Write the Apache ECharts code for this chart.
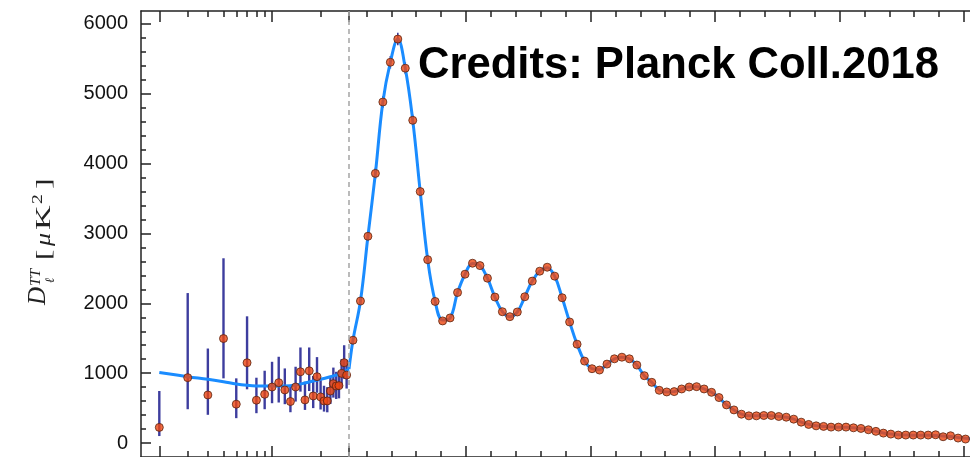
<!DOCTYPE html>
<html>
<head>
<meta charset="utf-8">
<script src="https://cdn.jsdelivr.net/npm/echarts@6/dist/echarts.min.js"></script>
<style>
html, body { margin: 0; padding: 0; background: #fff; }
#chart { width: 970px; height: 457px; }
</style>
</head>
<body>
<div id="chart"></div>
<script>
// ---- Low-ell band powers (ell = 2..29), with lower / upper ends of the error bars ----
const lowEll = [2, 3, 4, 5, 6, 7, 8, 9, 10, 11, 12, 13, 14, 15, 16, 17, 18, 19, 20, 21, 22, 23, 24, 25, 26, 27, 28, 29];
const lowDl  = [224, 936, 688, 1496, 556, 1149, 613, 698, 802, 864, 760, 594, 802, 1020, 617, 1033, 674, 950, 660, 603, 603, 745, 850, 816, 822, 997, 1150, 973];
const lowLo  = [100, 484, 404, 926, 356, 769, 427, 484, 570, 580, 556, 441, 594, 736, 474, 745, 500, 720, 480, 450, 440, 560, 650, 630, 640, 790, 920, 780];
const lowHi  = [745, 2147, 1353, 2645, 926, 1814, 935, 1035, 1163, 1235, 1068, 831, 1092, 1368, 878, 1368, 960, 1230, 900, 820, 800, 960, 1080, 1020, 1030, 1200, 1400, 1190];

// ---- High-ell binned band powers ----
const highEll = [46, 76, 106, 136, 166, 196, 226, 256, 286, 316, 346, 376, 406, 436, 466, 496, 526, 556, 586, 616,
  646, 676, 706, 736, 766, 796, 826, 856, 886, 916, 946, 976, 1006, 1036, 1066, 1096, 1126, 1156, 1186, 1216,
  1246, 1276, 1306, 1336, 1366, 1396, 1426, 1456, 1486, 1516, 1546, 1576, 1606, 1636, 1666, 1696, 1726, 1756, 1786, 1816,
  1846, 1876, 1906, 1936, 1966, 1996, 2026, 2056, 2086, 2116, 2146, 2176, 2206, 2236, 2266, 2296, 2326, 2356, 2386, 2416,
  2446, 2476, 2506];
const highDl = [1472, 2033, 2960, 3860, 4882, 5451, 5783, 5366, 4620, 3600, 2625, 2027, 1748, 1791, 2155, 2417, 2574, 2540, 2360, 2090,
  1880, 1809, 1876, 2094, 2318, 2460, 2517, 2389, 2080, 1733, 1415, 1173, 1064, 1045, 1130, 1206, 1229, 1206, 1116, 964,
  869, 755, 731, 736, 774, 802, 807, 774, 726, 651, 546, 474, 413, 389, 389, 394, 394, 380, 370, 342,
  299, 266, 246, 238, 228, 228, 228, 218, 209, 190, 167, 142, 128, 114, 114, 114, 114, 114, 118, 90,
  104, 71, 57];
// half-width of the small error bars around the first acoustic peak
const highErrEll = [46, 76, 106, 136, 166, 196, 226, 256, 286, 316];
const highErr    = [50, 60, 70, 80, 85, 90, 90, 85, 80, 70];

// ---- Best-fit model curve ----
const modelLowEll = [2, 3, 4, 5, 6, 7, 8, 10, 12, 14, 16, 20, 23, 26, 30];
const modelLowDl  = [1011, 950, 912, 878, 845, 826, 817, 815, 817, 831, 859, 912, 950, 987, 1060];
const modelHighEll = [30, 46, 76, 106, 136, 166, 196, 226, 256, 286, 316, 346, 376, 406, 436, 466, 496, 526, 556, 586,
  616, 646, 676, 706, 736, 766, 796, 826, 856, 886, 916, 946, 976, 1006, 1036, 1066, 1096, 1126, 1156, 1186,
  1216, 1246, 1276, 1306, 1336, 1366, 1396, 1426, 1456, 1486, 1516, 1546, 1576, 1606, 1636, 1666, 1696, 1726, 1756, 1786,
  1816, 1846, 1876, 1906, 1936, 1966, 1996, 2026, 2056, 2086, 2116, 2146, 2176, 2206, 2236, 2266, 2296, 2326, 2356, 2386,
  2416, 2446, 2476, 2506, 2530];
const modelHighDl = [1060, 1472, 2033, 2960, 3860, 4882, 5451, 5783, 5366, 4620, 3600, 2625, 2027, 1760, 1791, 2155, 2417, 2570, 2540, 2360,
  2090, 1880, 1809, 1876, 2094, 2318, 2460, 2510, 2389, 2080, 1733, 1415, 1173, 1064, 1050, 1130, 1206, 1229, 1206, 1116,
  964, 869, 760, 731, 736, 774, 802, 805, 774, 726, 651, 546, 474, 415, 392, 390, 393, 392, 380, 368,
  342, 300, 268, 248, 238, 230, 227, 225, 218, 207, 190, 168, 145, 128, 118, 114, 113, 113, 112, 108,
  100, 92, 80, 68, 60];

// ---- Axis ticks ----
const yMajorTicks = [0, 1000, 2000, 3000, 4000, 5000, 6000];
const yMinorTicks = [200, 400, 600, 800, 1200, 1400, 1600, 1800, 2200, 2400, 2600, 2800, 3200, 3400, 3600, 3800,
  4200, 4400, 4600, 4800, 5200, 5400, 5600, 5800];
const logMajorTicks = [2, 10, 30];
const logMinorTicks = [3, 4, 5, 6, 7, 8, 9, 20];
const linMajorTicks = [500, 1000, 1500, 2000, 2500];
const linMinorTicks = [100, 200, 300, 400, 600, 700, 800, 900, 1100, 1200, 1300, 1400, 1600, 1700, 1800, 1900,
  2100, 2200, 2300, 2400];

// ---- Layout ----
const Y_MIN = -200, Y_MAX = 6185;
const ELL_LOG_MIN = 1.54, ELL_SPLIT = 30, ELL_LIN_MAX = 2524;
const AXIS_COLOR = '#222';
const MODEL_COLOR = '#1a8cff';
const POINT_COLOR = '#ee4610';
const POINT_BORDER = '#5a2410';
const BAR_COLOR = '#3d3d9e';
const TITLE_COLOR = '#222';

const log10 = Math.log10;

function tickAxis(gridIndex, pos, min, max, values, len, showLine) {
  return {
    type: 'value', gridIndex, position: pos, min, max,
    axisLine: { show: showLine, onZero: false, lineStyle: { color: AXIS_COLOR, width: 1.5 } },
    axisTick: { show: true, inside: true, length: len, customValues: values, lineStyle: { color: AXIS_COLOR, width: 1.5 } },
    axisLabel: { show: false },
    splitLine: { show: false }
  };
}

const xAxes = [
  // grid 0 : logarithmic ell range
  { type: 'log', gridIndex: 0, logBase: 10, min: ELL_LOG_MIN, max: ELL_SPLIT, show: false, splitLine: { show: false } },
  tickAxis(0, 'bottom', log10(ELL_LOG_MIN), log10(ELL_SPLIT), logMajorTicks.map(log10), 11, true),
  tickAxis(0, 'bottom', log10(ELL_LOG_MIN), log10(ELL_SPLIT), logMinorTicks.map(log10), 6, false),
  tickAxis(0, 'top', log10(ELL_LOG_MIN), log10(ELL_SPLIT), logMajorTicks.map(log10), 11, true),
  tickAxis(0, 'top', log10(ELL_LOG_MIN), log10(ELL_SPLIT), logMinorTicks.map(log10), 6, false),
  // grid 1 : linear ell range
  { type: 'value', gridIndex: 1, min: ELL_SPLIT, max: ELL_LIN_MAX, show: false, splitLine: { show: false } },
  tickAxis(1, 'bottom', ELL_SPLIT, ELL_LIN_MAX, linMajorTicks, 11, true),
  tickAxis(1, 'bottom', ELL_SPLIT, ELL_LIN_MAX, linMinorTicks, 6, false),
  tickAxis(1, 'top', ELL_SPLIT, ELL_LIN_MAX, linMajorTicks, 11, true),
  tickAxis(1, 'top', ELL_SPLIT, ELL_LIN_MAX, linMinorTicks, 6, false)
];

const yAxes = [
  {
    type: 'value', gridIndex: 0, position: 'left', min: Y_MIN, max: Y_MAX,
    axisLine: { show: true, onZero: false, lineStyle: { color: AXIS_COLOR, width: 1.5 } },
    axisTick: { show: true, inside: true, length: 10, customValues: yMajorTicks, lineStyle: { color: AXIS_COLOR, width: 1.5 } },
    axisLabel: {
      show: true, customValues: yMajorTicks, margin: 13,
      formatter: v => String(v),
      fontFamily: 'Liberation Sans', fontSize: 20, color: '#111'
    },
    splitLine: { show: false }
  },
  {
    type: 'value', gridIndex: 0, position: 'left', min: Y_MIN, max: Y_MAX,
    axisLine: { show: false },
    axisTick: { show: true, inside: true, length: 5, customValues: yMinorTicks, lineStyle: { color: AXIS_COLOR, width: 1.5 } },
    axisLabel: { show: false },
    splitLine: { show: false }
  },
  { type: 'value', gridIndex: 1, min: Y_MIN, max: Y_MAX, show: false, splitLine: { show: false } }
];

function errorBarSeries(xAxisIndex, yAxisIndex, data, width) {
  return {
    type: 'custom', xAxisIndex, yAxisIndex, z: 2,
    data,
    encode: { x: 0, y: [1, 2] },
    renderItem(params, api) {
      const a = api.coord([api.value(0), api.value(1)]);
      const b = api.coord([api.value(0), api.value(2)]);
      return {
        type: 'line',
        shape: { x1: a[0], y1: a[1], x2: b[0], y2: b[1] },
        style: { stroke: BAR_COLOR, lineWidth: width }
      };
    }
  };
}

const lowBars = lowEll.map((l, i) => [l, lowLo[i], lowHi[i]]);
const highBars = highErrEll.map((l, i) => {
  const v = highDl[highEll.indexOf(l)];
  return [l, v - highErr[i], v + highErr[i]];
});

const pointStyle = { color: POINT_COLOR, borderColor: POINT_BORDER, borderWidth: 1 };

// one glyph of the rotated axis title
function glyph(text, x, y, font, scaleX) {
  return {
    type: 'text', x, y, scaleX: scaleX || 1,
    style: { text, font, fill: TITLE_COLOR, align: 'left', verticalAlign: 'bottom', textAlign: 'left', textVerticalAlign: 'bottom' }
  };
}

const option = {
  animation: false,
  backgroundColor: '#fff',
  grid: [
    { left: 141, top: 11, width: 208, bottom: -2 },
    { left: 349, top: 11, right: -5, bottom: -2 }
  ],
  xAxis: xAxes,
  yAxis: yAxes,
  series: [
    errorBarSeries(0, 0, lowBars, 2.4),
    {
      type: 'line', xAxisIndex: 0, yAxisIndex: 0, z: 3,
      data: modelLowEll.map((l, i) => [l, modelLowDl[i]]),
      smooth: 0.4, symbol: 'none',
      lineStyle: { color: MODEL_COLOR, width: 3 }
    },
    {
      type: 'scatter', xAxisIndex: 0, yAxisIndex: 0, z: 4,
      data: lowEll.map((l, i) => [l, lowDl[i]]),
      symbol: 'circle', symbolSize: 8, itemStyle: pointStyle
    },
    errorBarSeries(5, 2, highBars, 1.6),
    {
      type: 'line', xAxisIndex: 5, yAxisIndex: 2, z: 3,
      data: modelHighEll.map((l, i) => [l, modelHighDl[i]]),
      smooth: 0.4, symbol: 'none',
      lineStyle: { color: MODEL_COLOR, width: 3 },
      markLine: {
        silent: true, symbol: 'none', label: { show: false },
        lineStyle: { type: [5, 4], color: '#aaa', width: 1.6 },
        data: [{ xAxis: ELL_SPLIT }]
      }
    },
    {
      type: 'scatter', xAxisIndex: 5, yAxisIndex: 2, z: 4,
      data: highEll.map((l, i) => [l, highDl[i]]),
      symbol: 'circle', symbolSize: 8, itemStyle: pointStyle, clip: false
    }
  ],
  graphic: [
    {
      type: 'text', x: 418, y: 66, z: 10,
      style: {
        text: 'Credits: Planck Coll.2018',
        font: 'bold 43.6px "Liberation Sans"',
        fill: '#000',
        textAlign: 'left', textVerticalAlign: 'middle', align: 'left', verticalAlign: 'middle'
      }
    },
    {
      // rotated y-axis title: D_ell^TT [muK^2]
      type: 'group', x: 51, y: 305, rotation: Math.PI / 2,
      children: [
        glyph('D', 0, 0, 'italic 25px "Liberation Serif"'),
        glyph('TT', 19, -8, 'italic 14px "Liberation Serif"', 1.1),
        glyph('ℓ', 22, 6, 'italic 13px "Liberation Serif"'),
        glyph('[', 45, 4, '21px "Liberation Serif"', 1.5),
        glyph('μ', 59, 4, 'italic 20px "Liberation Serif"', 1.3),
        glyph('K', 75, 4, '20px "Liberation Serif"', 1.7),
        glyph('2', 101, -6, '14px "Liberation Serif"', 1.4),
        glyph(']', 116, 4, '21px "Liberation Serif"', 1.5)
      ]
    }
  ]
};

const chart = echarts.init(document.getElementById('chart'), null, { renderer: 'canvas' });
chart.setOption(option);
</script>
</body>
</html>
